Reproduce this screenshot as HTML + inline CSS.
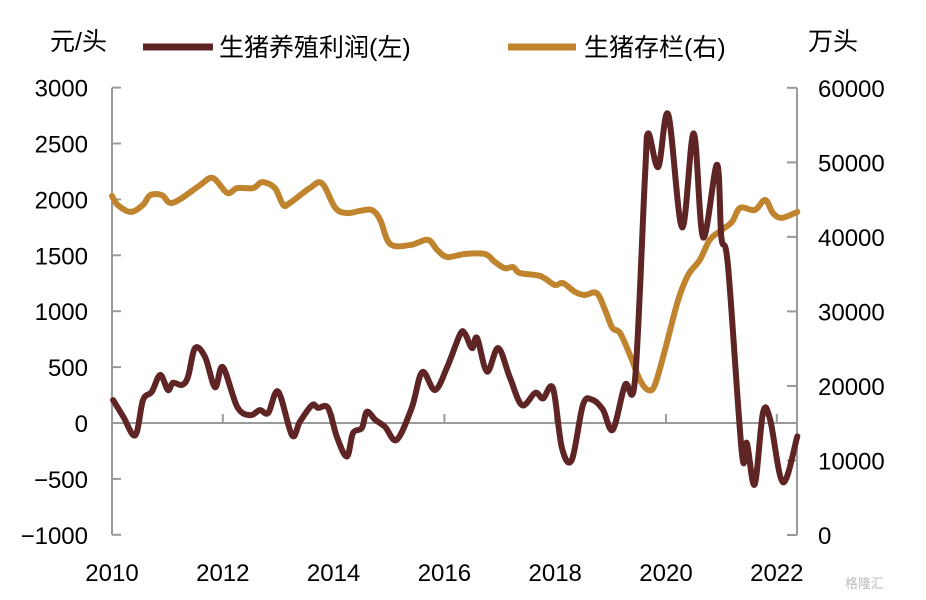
<!DOCTYPE html>
<html><head><meta charset="utf-8">
<style>
body{margin:0;background:#fff;}
svg{display:block;font-family:"Liberation Sans","Noto Sans CJK SC",sans-serif;}
</style></head>
<body>
<svg id="chart" width="926" height="600" viewBox="0 0 926 600" xmlns="http://www.w3.org/2000/svg">
<g id="axes"></g>
<g id="series"></g>
<g>
<text x="50" y="50" font-size="25" fill="#000">元/头</text>
<line x1="143" y1="47" x2="213" y2="47" stroke="#5f2424" stroke-width="7"/>
<text x="219" y="56" font-size="25" fill="#000">生猪养殖利润(左)</text>
<line x1="508" y1="47" x2="576" y2="47" stroke="#c0842f" stroke-width="7"/>
<text x="584" y="56" font-size="25" fill="#000">生猪存栏(右)</text>
<text x="808" y="50" font-size="25" fill="#000">万头</text>
</g>
<text x="845" y="588" font-size="13" fill="#bbb">格隆汇</text>
</svg>
<script>
const leftTicks=[3000,2500,2000,1500,1000,500,0,-500,-1000];
const rightTicks=[60000,50000,40000,30000,20000,10000,0];
const xTicks=[2010,2012,2014,2016,2018,2020,2022];
const profitT=[2010.02,2010.2,2010.42,2010.56,2010.72,2010.87,2011.01,2011.1,2011.26,2011.37,2011.5,2011.68,2011.86,2012.0,2012.26,2012.49,2012.67,2012.82,2013.0,2013.25,2013.39,2013.61,2013.72,2013.9,2014.06,2014.24,2014.35,2014.51,2014.6,2014.75,2014.93,2015.14,2015.41,2015.6,2015.83,2016.05,2016.28,2016.37,2016.5,2016.59,2016.77,2016.97,2017.18,2017.4,2017.64,2017.78,2017.96,2018.12,2018.3,2018.5,2018.66,2018.86,2019.04,2019.26,2019.44,2019.62,2019.68,2019.86,2020.04,2020.29,2020.5,2020.67,2020.92,2021.0,2021.12,2021.37,2021.46,2021.6,2021.75,2021.88,2022.11,2022.37];
const profitV=[205,60,-110,205,280,430,295,360,340,410,670,590,320,500,145,70,115,90,280,-110,10,160,135,135,-125,-300,-90,-45,100,30,-35,-150,135,455,295,500,790,800,670,760,460,670,410,160,270,220,310,-220,-330,160,210,120,-60,340,385,2200,2590,2290,2760,1750,2590,1660,2310,1660,1400,-270,-180,-550,90,30,-530,-120];
const stockT=[2010.0,2010.1,2010.34,2010.56,2010.69,2010.9,2011.05,2011.26,2011.59,2011.82,2012.08,2012.26,2012.55,2012.71,2012.94,2013.09,2013.21,2013.57,2013.79,2014.03,2014.24,2014.48,2014.69,2014.84,2015.02,2015.38,2015.7,2015.87,2016.05,2016.37,2016.73,2016.91,2017.09,2017.24,2017.36,2017.73,2017.99,2018.14,2018.36,2018.53,2018.75,2018.9,2019.03,2019.17,2019.35,2019.53,2019.68,2019.8,2019.98,2020.22,2020.4,2020.61,2020.79,2021.01,2021.19,2021.34,2021.6,2021.79,2021.93,2022.09,2022.37];
const stockV=[45500,44300,43350,44300,45600,45600,44550,45200,46950,47900,45900,46550,46550,47350,46550,44300,44550,46550,47200,43900,43200,43500,43600,42300,39050,38900,39600,38250,37300,37700,37700,36650,35800,35950,35150,34750,33550,33800,32600,32200,32450,30200,27800,27100,24150,20800,19450,20150,24800,31550,34900,36900,39600,40950,42000,43900,43600,44950,43200,42550,43350];

const X0=112,X1=797;
const xS=t=>X0+(t-2010)*55.4;
const yL=v=>423-v*0.1118;
const yR=v=>535-v*0.007453;
const NS="http://www.w3.org/2000/svg";
function mk(tag,attrs,parent){const e=document.createElementNS(NS,tag);for(const k in attrs)e.setAttribute(k,attrs[k]);parent.appendChild(e);return e;}
const axes=document.getElementById('axes');
const series=document.getElementById('series');
const gc="#9a9a9a";
let a=mk('line',{x1:X0,y1:yL(3000),x2:X0,y2:yL(-1000),stroke:gc,'stroke-width':2},axes);


a=mk('line',{x1:X1,y1:yR(60000),x2:X1,y2:yR(0),stroke:gc,'stroke-width':2},axes);


a=mk('line',{x1:X0,y1:yL(0),x2:X1,y2:yL(0),stroke:gc,'stroke-width':2},axes);


leftTicks.forEach(v=>{
  const l=mk('line',{x1:X0,y1:yL(v),x2:X0+9,y2:yL(v),stroke:gc,'stroke-width':2},axes);
  
  
  const t=mk('text',{x:88,y:yL(v)+9,'font-size':24,'text-anchor':'end',fill:'#000'},axes);
  t.textContent=v<0?'\u2212'+(-v):String(v);
  
  
});
rightTicks.forEach(v=>{
  const l=mk('line',{x1:X1-10,y1:yR(v),x2:X1,y2:yR(v),stroke:gc,'stroke-width':2},axes);
  
  
  const t=mk('text',{x:818,y:yR(v)+9,'font-size':24,fill:'#000'},axes);
  t.textContent=String(v);
  
  
});
xTicks.forEach(v=>{
  const l=mk('line',{x1:xS(v),y1:yL(0)-9,x2:xS(v),y2:yL(0),stroke:gc,'stroke-width':2},axes);
  
  
  const t=mk('text',{x:xS(v),y:581,'font-size':24,'text-anchor':'middle',fill:'#000'},axes);
  t.textContent=String(v);
  
  
});
function smooth(pts){
  let d='M'+pts[0][0]+','+pts[0][1];
  for(let i=0;i<pts.length-1;i++){
    const p0=pts[Math.max(0,i-1)],p1=pts[i],p2=pts[i+1],p3=pts[Math.min(pts.length-1,i+2)];
    const c1x=p1[0]+(p2[0]-p0[0])/6,c1y=p1[1]+(p2[1]-p0[1])/6;
    const c2x=p2[0]-(p3[0]-p1[0])/6,c2y=p2[1]-(p3[1]-p1[1])/6;
    d+=' C'+c1x+','+c1y+' '+c2x+','+c2y+' '+p2[0]+','+p2[1];
  }
  return d;
}
const sp=mk('path',{d:smooth(stockT.map((t,i)=>[xS(t),yR(stockV[i])])),fill:'none',stroke:'#c0842f','stroke-width':6,'stroke-linejoin':'round','stroke-linecap':'round'},series);


const pp=mk('path',{d:smooth(profitT.map((t,i)=>[xS(t),yL(profitV[i])])),fill:'none',stroke:'#5f2424','stroke-width':6,'stroke-linejoin':'round','stroke-linecap':'round'},series);


</script>
</body></html>
